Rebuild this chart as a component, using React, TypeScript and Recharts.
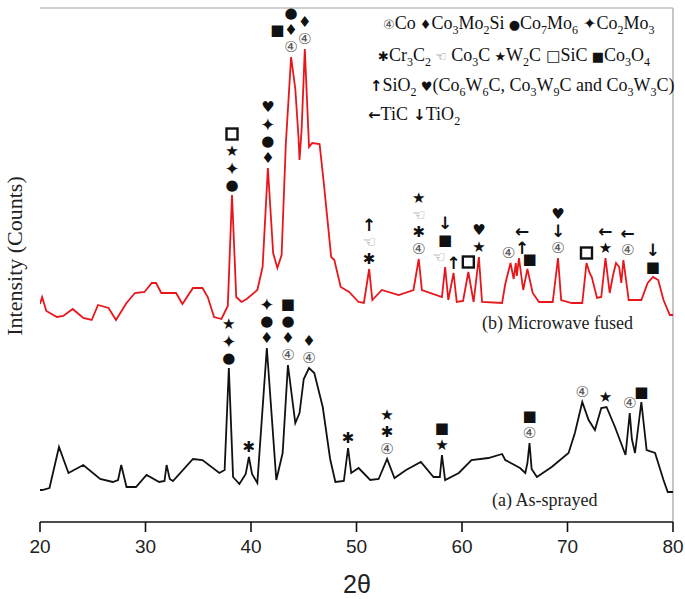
import React from 'react';
import { ComposedChart, Line, Scatter, XAxis, YAxis, ReferenceLine } from 'recharts';

// 2θ ticks
const angleTicks = [20, 30, 40, 50, 60, 70, 80];

// (a) As-sprayed, black trace (arbitrary counts)
const sprayedAngle = [
  20, 20.2, 20.9, 21.8, 22.7, 24.1, 25.7, 26.9, 27.4, 27.7, 28.2, 29.1, 30.1, 31.3, 31.8, 32.0,
  32.3, 32.6, 34.5, 35.4, 37.0, 37.5, 37.9, 38.3, 38.9, 39.5, 39.8, 40.1, 40.6, 41.5, 42.4, 43.0,
  43.5, 44.2, 44.6, 45.0, 45.5, 46.0, 46.8, 47.5, 48.0, 48.8, 49.2, 49.5, 50.2, 51.3, 52.1, 52.9,
  53.6, 54.7, 56.1, 57.3, 57.9, 58.1, 58.4, 59.7, 60.9, 62.5, 63.8, 64.1, 65.5, 66.0, 66.2, 66.4,
  66.6, 67.1, 68.5, 70.1, 70.7, 71.4, 72.0, 72.6, 73.2, 73.7, 74.5, 75.5, 75.9, 76.1, 76.4, 77.0,
  77.5, 78.3, 79.1, 79.5, 80,
];
const sprayedCounts = [
  29, 29, 31, 72, 46, 54, 40, 37, 39, 54, 32, 32, 44, 37, 38, 54,
  40, 38, 60, 59, 46, 49, 151, 42, 35, 45, 62, 45, 36, 171, 39, 66,
  154, 96, 106, 140, 151, 146, 112, 60, 37, 38, 71, 46, 51, 39, 40, 60,
  41, 49, 57, 42, 42, 64, 39, 46, 59, 61, 65, 59, 51, 46, 56, 76,
  50, 42, 52, 66, 86, 117, 99, 89, 111, 112, 92, 64, 106, 80, 66, 117,
  69, 66, 39, 27, 27,
];

// (b) Microwave fused, red trace
const fusedAngle = [
  20, 20.2, 20.6, 21.6, 22.2, 23.1, 24.1, 24.9, 25.5, 26.5, 27.2, 28.2, 29.0, 29.9, 30.6, 31.0,
  31.5, 32.9, 33.5, 34.5, 35.4, 35.9, 36.5, 37.2, 37.8, 38.2, 38.6, 39.1, 39.6, 40.6, 41.1, 41.6,
  42.1, 42.5, 42.9, 43.3, 43.8, 44.2, 44.5, 44.6, 44.8, 45.1, 45.5, 45.8, 46.5, 46.9, 47.6, 47.9,
  48.5, 49.3, 50.2, 50.7, 51.2, 51.5, 52.4, 54.0, 55.4, 55.9, 56.2, 58.1, 58.4, 58.7, 59.2, 59.5,
  60.1, 60.6, 61.1, 61.6, 61.9, 63.8, 64.1, 64.6, 64.9, 65.1, 65.2, 65.4, 65.8, 66.2, 66.7, 67.3,
  68.6, 69.1, 69.4, 70.4, 71.4, 71.8, 72.1, 72.3, 72.8, 73.2, 73.6, 74.0, 74.3, 74.6, 74.9, 75.1,
  75.3, 75.8, 77.0, 77.6, 78.1, 78.6, 79.1, 79.7, 80,
];
const fusedCounts = [
  215, 222, 208, 202, 203, 210, 201, 199, 214, 211, 199, 216, 226, 227, 236, 236,
  226, 226, 215, 231, 231, 222, 202, 200, 213, 324, 222, 217, 220, 229, 252, 351,
  266, 251, 264, 375, 462, 430, 382, 359, 390, 470, 372, 376, 375, 336, 262, 259,
  232, 227, 217, 216, 250, 219, 229, 224, 229, 260, 229, 222, 252, 219, 246, 217,
  218, 247, 217, 262, 217, 216, 235, 256, 240, 256, 243, 261, 229, 250, 226, 217,
  217, 261, 219, 216, 216, 256, 246, 242, 221, 222, 261, 226, 243, 256, 252, 236,
  259, 219, 219, 236, 242, 239, 219, 204, 204,
];

// phase markers stacked above peaks, bottom to top ('' leaves a slot empty)
type Mark = { at: number; glyphs: string[]; peak?: number };

const sprayedMarks: Mark[] = [
  { at: 37.9, glyphs: ['●', '✦', '★'] },
  { at: 39.8, glyphs: ['✱'] },
  { at: 41.5, glyphs: ['♦', '●', '✦'] },
  { at: 43.5, glyphs: ['④', '♦', '●', '■'] },
  { at: 45.5, glyphs: ['④', '♦'] },
  { at: 49.2, glyphs: ['✱'] },
  { at: 52.9, glyphs: ['④', '✱', '★'] },
  { at: 58.1, glyphs: ['★', '■'] },
  { at: 66.4, glyphs: ['④', '■'] },
  { at: 71.4, glyphs: ['④'] },
  { at: 73.6, glyphs: ['★'] },
  { at: 75.9, glyphs: ['④'] },
  { at: 77.0, glyphs: ['■'] },
];

const fusedMarks: Mark[] = [
  { at: 38.2, glyphs: ['●', '✦', '★', '□'] },
  { at: 41.6, glyphs: ['♦', '●', '✦', '♥'] },
  { at: 43.8, glyphs: ['④', '♦', '●'] },
  { at: 42.5, peak: 43.8, glyphs: ['', '■'] },
  { at: 45.1, glyphs: ['④', '♦'] },
  { at: 51.2, glyphs: ['✱', '☜', '↑'] },
  { at: 55.9, glyphs: ['④', '✱', '☜', '★'] },
  { at: 57.8, peak: 58.4, glyphs: ['☜'] },
  { at: 58.4, glyphs: ['', '■', '↓'] },
  { at: 59.2, glyphs: ['↑'] },
  { at: 60.6, glyphs: ['□'] },
  { at: 61.6, glyphs: ['★', '♥'] },
  { at: 64.4, glyphs: ['④'] },
  { at: 65.7, peak: 65.4, glyphs: ['↑', '←'] },
  { at: 66.4, peak: 66.2, glyphs: ['■'] },
  { at: 69.1, glyphs: ['④', '↓', '♥'] },
  { at: 71.8, glyphs: ['□'] },
  { at: 73.6, glyphs: ['★', '←'] },
  { at: 75.7, peak: 75.3, glyphs: ['④', '←'] },
  { at: 78.1, glyphs: ['■', '↓'] },
];

// legend rows: [glyph, formula], '_' marks a subscript digit
const legendRows: [string, string][][] = [
  [['④', 'Co'], ['♦', 'Co_3Mo_2Si'], ['●', 'Co_7Mo_6'], ['✦', 'Co_2Mo_3']],
  [['✱', 'Cr_3C_2'], ['☜', ' Co_3C'], ['★', 'W_2C'], ['□', 'SiC'], ['■', 'Co_3O_4']],
  [['↑', 'SiO_2'], ['♥', '(Co_6W_6C, Co_3W_9C and Co_3W_3C)']],
  [['←', 'TiC'], ['↓', 'TiO_2']],
];

const SERIF = '"Liberation Serif", "Times New Roman", serif';
const SANS = '"Liberation Sans", Arial, sans-serif';
const SYM = '"DejaVu Sans", "Noto Sans CJK SC", sans-serif';

const zip = (xs: number[], ys: number[]) => xs.map((x, i) => ({ x, y: ys[i] }));

function markPoints(marks: Mark[], xs: number[], ys: number[]) {
  const pts: { x: number; y: number; level: number; glyph: string }[] = [];
  marks.forEach((m) => {
    const ref = m.peak ?? m.at;
    let top = -Infinity;
    xs.forEach((x, i) => {
      if (Math.abs(x - ref) <= 0.25) top = Math.max(top, ys[i]);
    });
    m.glyphs.forEach((g, level) => {
      if (g) pts.push({ x: m.at, y: top, level, glyph: g });
    });
  });
  return pts;
}

function glyphStyle(g: string) {
  if (g === '④') return { fill: '#555', fontSize: 15, fontWeight: 400 };
  if (g === '☜') return { fill: '#888', fontSize: 15, fontWeight: 400 };
  if ('↑↓←'.includes(g)) return { fill: '#111', fontSize: 17, fontWeight: 700 };
  if (g === '□') return { fill: '#111', fontSize: 17, fontWeight: 700 };
  if (g === '✦') return { fill: '#111', fontSize: 18, fontWeight: 400 };
  return { fill: '#111', fontSize: 15, fontWeight: 400 };
}

const MarkGlyph = (props: any) => {
  const { cx, cy, payload } = props;
  if (cx == null || cy == null) return null;
  const y = cy - 10 - payload.level * 17;
  if (payload.glyph === '□') {
    return <rect x={cx - 5.5} y={y - 5.5} width={11} height={11} fill="none" stroke="#111" strokeWidth={2.4} />;
  }
  const s = glyphStyle(payload.glyph);
  return (
    <text
      x={cx}
      y={y}
      textAnchor="middle"
      dominantBaseline="central"
      fontFamily={SYM}
      fontSize={s.fontSize}
      fontWeight={s.fontWeight}
      fill={s.fill}
    >
      {payload.glyph}
    </text>
  );
};

function LegendRow({ row, x, y }: { row: [string, string][]; x: number; y: number }) {
  const spans: React.ReactNode[] = [];
  let inSub = false;
  let k = 0;
  row.forEach(([g, f], idx) => {
    const s = glyphStyle(g);
    const dy = inSub ? -5 : 0;
    inSub = false;
    spans.push(
      <tspan key={k++} dy={dy} fontFamily={SYM} fontSize={s.fontSize - 2} fontWeight={s.fontWeight} fill={s.fill}>
        {(idx > 0 ? ' ' : '') + g}
      </tspan>
    );
    f.split(/(_\d)/).forEach((part) => {
      if (!part) return;
      if (part.startsWith('_')) {
        spans.push(
          <tspan key={k++} dy={inSub ? 0 : 5} fontSize={12}>
            {part.slice(1)}
          </tspan>
        );
        inSub = true;
      } else {
        spans.push(
          <tspan key={k++} dy={inSub ? -5 : 0} fontSize={18}>
            {part}
          </tspan>
        );
        inSub = false;
      }
    });
  });
  return (
    <text x={x} y={y} fontFamily={SERIF} fill="#111" style={{ whiteSpace: 'pre' }}>
      {spans}
    </text>
  );
}

export default function App() {
  const sprayed = zip(sprayedAngle, sprayedCounts);
  const fused = zip(fusedAngle, fusedCounts);
  const sprayedPts = markPoints(sprayedMarks, sprayedAngle, sprayedCounts);
  const fusedPts = markPoints(fusedMarks, fusedAngle, fusedCounts);

  return (
    <div style={{ position: 'absolute', left: 0, top: 0, width: 685, height: 599, background: '#fff' }}>
      <ComposedChart width={685} height={599} margin={{ top: 8, right: 12, left: 40, bottom: 17 }}>
        <XAxis
          dataKey="x"
          type="number"
          domain={[20, 80]}
          ticks={angleTicks}
          allowDataOverflow
          height={60}
          tickSize={10}
          tickMargin={8}
          tick={{ fill: '#222', fontSize: 19, fontFamily: SANS }}
          axisLine={{ stroke: '#111', strokeWidth: 1.6 }}
          tickLine={{ stroke: '#111', strokeWidth: 1.6 }}
        />
        <YAxis
          type="number"
          domain={[-3, 511]}
          allowDataOverflow
          width={0}
          tick={false}
          tickLine={false}
          axisLine={{ stroke: '#111', strokeWidth: 1.6 }}
        />
        <ReferenceLine y={511} stroke="#a0a0a0" strokeWidth={1.2} />
        <ReferenceLine x={80} stroke="#a0a0a0" strokeWidth={1.2} />
        <Line
          data={fused}
          dataKey="y"
          type="linear"
          stroke="#e8161b"
          strokeWidth={1.8}
          dot={false}
          isAnimationActive={false}
        />
        <Line
          data={sprayed}
          dataKey="y"
          type="linear"
          stroke="#111"
          strokeWidth={1.8}
          dot={false}
          isAnimationActive={false}
        />
        <Scatter data={fusedPts} dataKey="y" shape={MarkGlyph} isAnimationActive={false} />
        <Scatter data={sprayedPts} dataKey="y" shape={MarkGlyph} isAnimationActive={false} />
      </ComposedChart>
      <svg
        width={685}
        height={599}
        style={{ position: 'absolute', left: 0, top: 0, pointerEvents: 'none' }}
      >
        <LegendRow row={legendRows[0]} x={383} y={29} />
        <LegendRow row={legendRows[1]} x={378} y={61} />
        <LegendRow row={legendRows[2]} x={370} y={91} />
        <LegendRow row={legendRows[3]} x={368} y={120} />
        <text x={482} y={329} fontFamily={SERIF} fontSize={18} fill="#222">
          (b) Microwave fused
        </text>
        <text x={492} y={506} fontFamily={SERIF} fontSize={18} fill="#222">
          (a) As-sprayed
        </text>
        <text x={357} y={593} textAnchor="middle" fontFamily={SANS} fontSize={25} fill="#222">
          2θ
        </text>
        <text
          transform="rotate(-90)"
          x={-256}
          y={22}
          textAnchor="middle"
          fontFamily={SERIF}
          fontSize={22}
          fill="#222"
        >
          Intensity (Counts)
        </text>
      </svg>
    </div>
  );
}
